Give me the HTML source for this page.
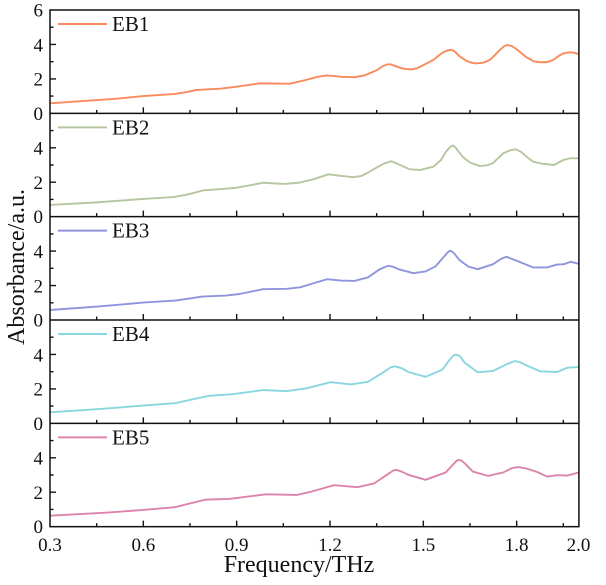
<!DOCTYPE html>
<html>
<head>
<meta charset="utf-8">
<style>
html,body{margin:0;padding:0;background:#fff;}
svg{display:block;}
svg, svg text{font-family:"Liberation Serif","Times New Roman",serif;}
text{fill:#111;}
</style>
</head>
<body>
<svg width="606" height="585" viewBox="0 0 606 585" xmlns="http://www.w3.org/2000/svg" font-family="Liberation Serif, serif">
<defs>
<path id="tk" d="M50 -17.22h3.5M50 -34.44h6M50 -51.67h3.5M50 -68.89h6M50 -86.11h3.5M96.67 0v-3.5M143.33 0v-6M190 0v-3.5M236.67 0v-6M283.33 0v-3.5M330 0v-6M376.67 0v-3.5M423.33 0v-6M470 0v-3.5M516.67 0v-6M563.33 0v-3.5" stroke="#111" stroke-width="1.4" fill="none"/>
<clipPath id="cp"><rect x="50" y="10" width="529" height="517"/></clipPath>
</defs>

<!-- series -->
<g clip-path="url(#cp)" fill="none" stroke-width="1.9" stroke-linejoin="round" stroke-linecap="round">
<g transform="matrix(311.1 0 0 -17.222 -43.33 113.33)">
<polyline vector-effect="non-scaling-stroke" stroke="#fa8a5c" points="0.3,0.58 0.45,0.77 0.514,0.85 0.6,1.0 0.697,1.12 0.735,1.22 0.772,1.36 0.847,1.43 0.9,1.55 0.975,1.74 1.072,1.72 1.115,1.9 1.16,2.12 1.19,2.2 1.24,2.12 1.28,2.1 1.31,2.2 1.35,2.5 1.37,2.75 1.383,2.83 1.39,2.85 1.398,2.83 1.405,2.78 1.425,2.65 1.44,2.58 1.462,2.55 1.48,2.62 1.5,2.8 1.532,3.1 1.56,3.5 1.575,3.64 1.586,3.68 1.594,3.66 1.6,3.6 1.618,3.29 1.639,3.04 1.655,2.94 1.67,2.9 1.695,2.95 1.714,3.1 1.73,3.38 1.746,3.68 1.76,3.9 1.77,3.97 1.785,3.9 1.8,3.72 1.832,3.25 1.855,3.02 1.875,2.96 1.9,2.98 1.917,3.1 1.935,3.33 1.95,3.48 1.97,3.54 1.985,3.52 2.0,3.44"/>
</g>
<g transform="matrix(311.1 0 0 -17.222 -43.33 216.67)">
<polyline vector-effect="non-scaling-stroke" stroke="#b6c6a0" points="0.3,0.68 0.45,0.83 0.6,1.03 0.697,1.14 0.745,1.3 0.793,1.53 0.857,1.61 0.9,1.68 0.986,1.97 1.05,1.9 1.1,1.97 1.146,2.17 1.195,2.46 1.23,2.38 1.274,2.29 1.3,2.36 1.318,2.52 1.35,2.85 1.375,3.1 1.398,3.22 1.425,3.0 1.457,2.75 1.489,2.71 1.532,2.9 1.557,3.29 1.573,3.78 1.585,4.02 1.594,4.14 1.602,4.05 1.61,3.85 1.628,3.45 1.65,3.14 1.682,2.94 1.705,2.98 1.724,3.11 1.757,3.68 1.78,3.86 1.798,3.91 1.815,3.75 1.832,3.48 1.853,3.19 1.88,3.08 1.92,3.0 1.95,3.29 1.971,3.39 2.0,3.39"/>
</g>
<g transform="matrix(311.1 0 0 -17.222 -43.33 320)">
<polyline vector-effect="non-scaling-stroke" stroke="#8f95dc" points="0.3,0.58 0.452,0.78 0.599,1.01 0.702,1.13 0.75,1.25 0.789,1.36 0.865,1.42 0.909,1.51 0.985,1.79 1.061,1.81 1.104,1.9 1.15,2.15 1.191,2.37 1.235,2.29 1.278,2.27 1.322,2.47 1.36,2.95 1.387,3.15 1.405,3.08 1.42,2.95 1.468,2.72 1.507,2.82 1.539,3.11 1.565,3.65 1.578,3.92 1.585,4.02 1.592,3.98 1.6,3.85 1.615,3.5 1.645,3.1 1.675,2.95 1.724,3.24 1.75,3.55 1.767,3.67 1.8,3.44 1.854,3.05 1.898,3.05 1.93,3.22 1.952,3.24 1.974,3.38 2.0,3.26"/>
</g>
<g transform="matrix(311.1 0 0 -17.222 -43.33 423.33)">
<polyline vector-effect="non-scaling-stroke" stroke="#8ad6df" points="0.3,0.64 0.452,0.82 0.599,1.03 0.702,1.17 0.76,1.4 0.811,1.6 0.887,1.69 0.985,1.93 1.061,1.87 1.126,2.04 1.202,2.39 1.267,2.26 1.322,2.41 1.37,2.95 1.395,3.25 1.409,3.31 1.43,3.2 1.452,2.98 1.507,2.70 1.561,3.11 1.585,3.7 1.598,3.95 1.604,3.99 1.612,3.95 1.62,3.85 1.632,3.54 1.675,2.96 1.724,3.04 1.77,3.45 1.795,3.62 1.81,3.55 1.833,3.35 1.876,3.02 1.93,2.98 1.963,3.23 2.0,3.27"/>
</g>
<g transform="matrix(311.1 0 0 -17.222 -43.33 526.67)">
<polyline vector-effect="non-scaling-stroke" stroke="#dd84ac" points="0.3,0.64 0.485,0.82 0.599,0.97 0.702,1.13 0.75,1.35 0.8,1.57 0.876,1.61 0.996,1.88 1.093,1.84 1.137,2.02 1.213,2.41 1.289,2.29 1.343,2.52 1.39,3.1 1.405,3.27 1.414,3.30 1.43,3.2 1.452,3.01 1.507,2.72 1.572,3.15 1.595,3.6 1.608,3.84 1.615,3.88 1.622,3.84 1.632,3.7 1.659,3.20 1.708,2.95 1.757,3.15 1.785,3.4 1.805,3.46 1.83,3.38 1.865,3.18 1.898,2.91 1.93,2.99 1.963,2.97 2.0,3.15"/>
</g>
</g>

<!-- frame -->
<g stroke="#111" stroke-width="1.5" fill="none">
<rect x="50" y="10" width="528.9" height="516.67"/>
<path d="M50 113.33H578.9M50 216.67H578.9M50 320H578.9M50 423.33H578.9"/>
</g>

<!-- ticks -->
<use href="#tk" transform="translate(0,113.33)"/>
<use href="#tk" transform="translate(0,216.67)"/>
<use href="#tk" transform="translate(0,320)"/>
<use href="#tk" transform="translate(0,423.33)"/>
<use href="#tk" transform="translate(0,526.67)"/>

<!-- y tick labels -->
<g font-size="19" text-anchor="end" font-family="Liberation Serif, serif">
<text x="43" y="16.5">6</text>
<text x="43" y="51.3">4</text>
<text x="43" y="85.7">2</text>
<text x="43" y="119.8">0</text>
<text x="43" y="154.6">4</text>
<text x="43" y="189.1">2</text>
<text x="43" y="223.2">0</text>
<text x="43" y="258">4</text>
<text x="43" y="292.4">2</text>
<text x="43" y="326.5">0</text>
<text x="43" y="361.3">4</text>
<text x="43" y="395.7">2</text>
<text x="43" y="429.8">0</text>
<text x="43" y="464.6">4</text>
<text x="43" y="499.1">2</text>
<text x="43" y="533.2">0</text>
</g>

<!-- x tick labels -->
<g font-size="19" text-anchor="middle" font-family="Liberation Serif, serif">
<text x="50" y="551">0.3</text>
<text x="143.33" y="551">0.6</text>
<text x="236.67" y="551">0.9</text>
<text x="330" y="551">1.2</text>
<text x="423.33" y="551">1.5</text>
<text x="516.67" y="551">1.8</text>
<text x="578.5" y="551">2.0</text>
</g>

<!-- axis titles -->
<text x="299" y="572" font-size="24" text-anchor="middle" font-family="Liberation Serif, serif">Frequency/THz</text>
<text transform="translate(24,267) rotate(-90)" font-size="24" text-anchor="middle" font-family="Liberation Serif, serif">Absorbance/a.u.</text>

<!-- legends -->
<g stroke-width="2" fill="none">
<path d="M58 24H107" stroke="#fa8a5c"/>
<path d="M58 127.33H107" stroke="#b6c6a0"/>
<path d="M58 230.67H107" stroke="#8f95dc"/>
<path d="M58 334H107" stroke="#8ad6df"/>
<path d="M58 437.33H107" stroke="#dd84ac"/>
</g>
<g font-size="21" font-family="Liberation Serif, serif">
<text x="112" y="31">EB1</text>
<text x="112" y="134.33">EB2</text>
<text x="112" y="237.67">EB3</text>
<text x="112" y="341">EB4</text>
<text x="112" y="444.33">EB5</text>
</g>
</svg>
</body>
</html>
